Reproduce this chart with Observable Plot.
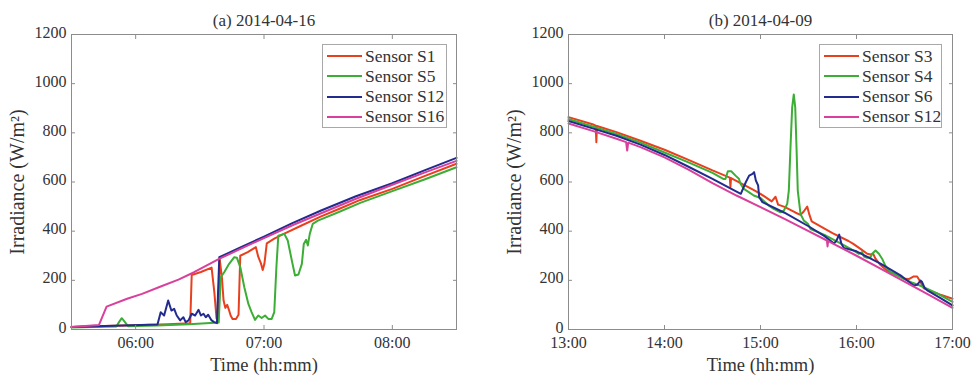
<!DOCTYPE html>
<html><head><meta charset="utf-8">
<script src="https://cdn.jsdelivr.net/npm/d3@7"></script>
<script src="https://cdn.jsdelivr.net/npm/@observablehq/plot@0.6"></script>
<style>
body{margin:0;background:#fff;}
#wrap{display:flex;width:974px;height:375px;}
.panel{position:relative;width:487px;height:375px;}
.legend{position:absolute;top:44px;height:84px;border:1px solid #a8a8a8;background:#fff;font-family:"Liberation Serif",serif;font-size:17.5px;color:#333;box-sizing:border-box;}
.row{position:absolute;left:0;height:20px;display:flex;align-items:center;white-space:nowrap;}
.sw{width:35px;height:2px;margin-left:4px;margin-right:3px;}
</style></head><body><div id="wrap"></div>
<script>
const FONT = '"Liberation Serif", serif';
const yTicks = [0, 200, 400, 600, 800, 1000, 1200];
const xLabel = "Time (hh:mm)";
const yLabel = "Irradiance (W/m²)";
const colors = ["#e8401e", "#3cae36", "#222c8e", "#d8409c"];

// ---- Panel (a) ----
const titleA = "(a) 2014-04-16";
const domainA = ["05:30", "08:30"];
const ticksA = ["06:00", "07:00", "08:00"];
const namesA = ["Sensor S1", "Sensor S5", "Sensor S12", "Sensor S16"];
// [minutes of day, W/m²]
const a_S1 = [[330,10],[345,14],[360,17],[375,21],[385.5,25],[386.2,222],[390.5,234],[395.5,252],[396.8,150],[397.8,45],[398.6,35],[399.3,285],[400.3,213],[401.1,118],[401.9,88],[402.8,100],[403.6,80],[404.4,57],[405.3,43],[406.9,43],[408.1,60],[408.9,300],[412.4,315],[416.2,335],[417.3,296],[418.6,268],[419.4,242],[420.2,268],[421.3,350],[424.8,370],[429.5,390],[437.3,422],[446.7,460],[455,490],[465,527],[480,572],[495,624],[510,674]];
const a_S5 = [[330,8],[340,10],[351,12],[352.2,30],[353.5,46],[355,30],[356.5,13],[370,16],[385,21],[398.8,28],[399.8,213],[401.4,233],[403.7,267],[406.1,294],[407.3,292],[408.9,254],[410.8,172],[412.7,104],[414.2,71],[415.8,39],[417.3,57],[418.9,47],[420.5,57],[422,43],[423.6,43],[424.8,71],[425.8,254],[426.7,382],[429.5,389],[431.1,362],[433,281],[434.5,220],[436.1,224],[437.7,267],[438.6,348],[439.7,365],[440.5,342],[441.4,389],[442.8,430],[445.2,443],[455,478],[465,515],[480,563],[495,610],[510,660]];
const a_S12 = [[330,10],[350,15],[370.2,20],[371.7,70],[373.3,57],[375.2,118],[376.7,77],[378,84],[379.2,57],[380.8,37],[382.3,50],[383.4,30],[384.7,37],[386.2,64],[387.8,57],[389.4,80],[390.5,57],[391.7,64],[392.8,50],[393.9,60],[395.5,37],[396.7,30],[398,26],[399.1,294],[410,338],[420,378],[433,432],[446.7,484],[463,542],[480,595],[495,647],[510,698]];
const a_S16 = [[330,10],[342.8,18],[346.4,93],[356,125],[363,145],[371.7,175],[380,203],[387.3,233],[399,287],[410,332],[420,372],[433,423],[446.7,473],[463,532],[480,589],[495,638],[510,686]];

// ---- Panel (b) ----
const titleB = "(b) 2014-04-09";
const domainB = ["13:00", "17:00"];
const ticksB = ["13:00", "14:00", "15:00", "16:00", "17:00"];
const namesB = ["Sensor S3", "Sensor S4", "Sensor S6", "Sensor S12"];
const b_S3 = [[780,864],[795,835],[797,829],[797.4,762],[797.8,828],[810,803],[825,768],[840,731],[855,690],[870,647],[880.8,618],[881.2,580],[881.6,616],[895,570],[900,552],[907,521],[909.4,540],[911,508],[915,499],[922,475],[925,466],[927,480],[929.2,500],[930.5,468],[932,440],[945,392],[955,360],[958,348],[962.5,328],[966.7,308],[968.75,305],[970.4,308],[971.9,288],[975,262],[979,240],[985,222],[990,206],[992.7,205],[995.8,216],[997.9,216],[1000,193],[1002,168],[1005,160],[1012,143],[1020,125]];
const b_S4 = [[780,856],[795,826],[810,795],[825,760],[840,720],[855,680],[870,637],[877,612],[878.1,612],[879.6,644],[881.7,644],[884.4,626],[886.5,613],[887.5,593],[889.6,572],[892.7,559],[895.8,545],[900,535],[905,505],[908.3,491],[912.5,477],[914.6,484],[916.7,511],[917.7,565],[918.75,742],[919.8,904],[920.8,956],[921.7,904],[922.5,742],[923.3,565],[925,470],[927.1,443],[929.6,430],[931.25,409],[940,385],[950,350],[958.3,321],[961.5,308],[963.5,315],[964.6,297],[966.7,292],[968.75,294],[969.8,308],[971.9,321],[974,308],[976,288],[978,260],[981.25,233],[985.4,220],[990,205],[995,190],[1000,178],[1010,148],[1020,112]];
const b_S6 = [[780,848],[795,818],[810,788],[825,752],[840,710],[855,662],[870,613],[880,578],[887.7,552],[890.8,599],[892.9,626],[895,633],[896,640],[897.1,606],[898.5,586],[899.2,538],[901.2,518],[915,475],[930,420],[940,380],[946,350],[947.5,362],[949.2,386],[950.5,350],[952,332],[960,318],[975,268],[987.5,220],[991.7,199],[995.8,179],[997.9,182],[1000,199],[1001,193],[1002.5,170],[1004.2,159],[1012,130],[1020,98]];
const b_S12 = [[780,838],[795,808],[810,776],[816,762],[816.7,728],[817.3,760],[825,742],[840,700],[855,650],[870,595],[885,545],[900,498],[915,450],[930,400],[941.5,362],[941.9,338],[942.3,360],[945,350],[960,300],[975,248],[990,195],[1005,142],[1020,88]];

function toMin(s) { const [h, m] = s.split(":").map(Number); return h * 60 + m; }
function fmt(m) { const h = Math.floor(m / 60), mm = Math.round(m % 60); return String(h).padStart(2, "0") + ":" + String(mm).padStart(2, "0"); }

function panel({title, names, series, ticks, domain, marginLeft, marginRight, legendLeft, legendWidth}) {
  const xt = ticks.map(toMin);
  const axisStyle = {stroke: "#8c8c8c"};
  const fig = Plot.plot({
    width: 487, height: 375, marginLeft, marginRight, marginTop: 34, marginBottom: 46,
    style: {fontFamily: FONT, fontSize: "16px", color: "#333", background: "transparent", overflow: "visible"},
    x: {domain: domain.map(toMin)},
    y: {domain: [0, 1200]},
    marks: [
      ...series.map((s, i) => Plot.line(s, {x: d => d[0], y: d => d[1], stroke: colors[i], strokeWidth: 2})),
      Plot.frame({stroke: "#8c8c8c"}),
      Plot.axisX({anchor: "bottom", ticks: xt, tickSize: -4, tickFormat: null, fill: "none", label: null, ...axisStyle}),
      Plot.axisX({anchor: "top", ticks: xt, tickSize: -4, tickFormat: null, fill: "none", label: null, ...axisStyle}),
      Plot.axisY({anchor: "left", ticks: yTicks, tickSize: -4, tickFormat: null, fill: "none", label: null, ...axisStyle}),
      Plot.axisY({anchor: "right", ticks: yTicks, tickSize: -4, tickFormat: null, fill: "none", label: null, ...axisStyle}),
      Plot.axisX({anchor: "bottom", ticks: xt, tickSize: 0, tickPadding: 7, tickFormat: fmt, label: null, fontSize: 16, fill: "#333"}),
      Plot.axisY({anchor: "left", ticks: yTicks, tickSize: 0, tickPadding: 5, dy: -2, tickFormat: d => String(d), label: null, fontSize: 16, fill: "#333"}),
      Plot.text([title], {frameAnchor: "top", lineAnchor: "middle", textAnchor: "middle", dy: -14, fontSize: 17, fill: "#333"}),
      Plot.text([xLabel], {frameAnchor: "bottom", lineAnchor: "middle", textAnchor: "middle", dy: 35.5, fontSize: 18.5, fill: "#333"}),
      Plot.text([yLabel], {frameAnchor: "left", lineAnchor: "middle", textAnchor: "middle", rotate: -90, dx: -54, fontSize: 20, fill: "#333"})
    ]
  });
  const div = document.createElement("div");
  div.className = "panel";
  div.appendChild(fig);
  const leg = document.createElement("div");
  leg.className = "legend";
  leg.style.left = legendLeft + "px";
  leg.style.width = legendWidth + "px";
  names.forEach((n, i) => {
    const r = document.createElement("div");
    r.className = "row";
    r.style.top = (1 + i * 20.3) + "px";
    const sw = document.createElement("span");
    sw.className = "sw";
    sw.style.background = colors[i];
    const t = document.createElement("span");
    t.textContent = n;
    r.appendChild(sw); r.appendChild(t);
    leg.appendChild(r);
  });
  div.appendChild(leg);
  return div;
}

const wrap = document.getElementById("wrap");
wrap.appendChild(panel({title: titleA, names: namesA, series: [a_S1, a_S5, a_S12, a_S16], ticks: ticksA, domain: domainA, marginLeft: 71, marginRight: 31, legendLeft: 322, legendWidth: 125}));
wrap.appendChild(panel({title: titleB, names: namesB, series: [b_S3, b_S4, b_S6, b_S12], ticks: ticksB, domain: domainB, marginLeft: 81, marginRight: 22, legendLeft: 332, legendWidth: 123}));
</script></body></html>
